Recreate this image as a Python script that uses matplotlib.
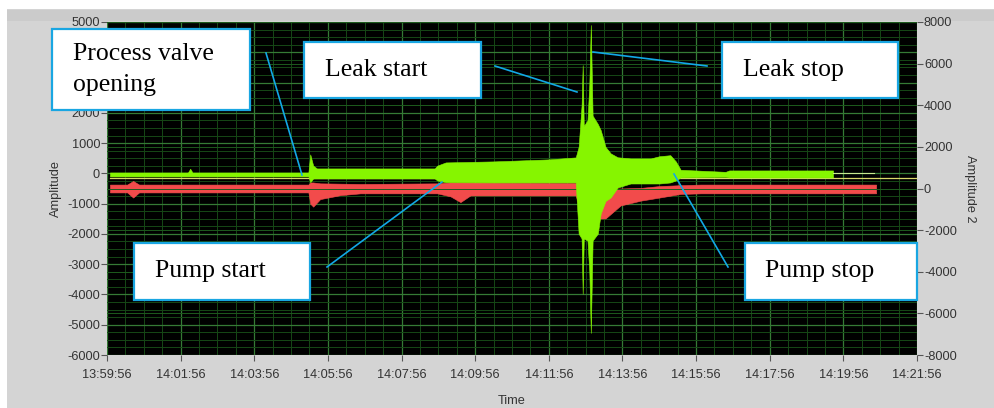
import matplotlib
matplotlib.use("Agg")
import matplotlib.pyplot as plt
from matplotlib.patches import Rectangle
from matplotlib.lines import Line2D
from matplotlib.ticker import MultipleLocator

plt.rcParams["axes.unicode_minus"] = False

# time in minutes after 13:59:56
tick_min = [0, 2, 4, 6, 8, 10, 12, 14, 16, 18, 20, 22]
tick_lab = ["13:59:56", "14:01:56", "14:03:56", "14:05:56", "14:07:56", "14:09:56",
            "14:11:56", "14:13:56", "14:15:56", "14:17:56", "14:19:56", "14:21:56"]

# red trace (Amplitude), envelope
t_red = [0.08, 0.55, 0.71, 0.87, 5.47, 5.52, 5.6, 5.79, 6.34, 6.88, 8.97, 9.33, 9.6, 9.87,
         12.73, 12.92, 13.54, 13.95, 14.5, 15.0, 15.58, 16.13, 20.89]
red_hi = [-370, -370, -250, -370, -370, -300, -300, -330, -340, -350, -330, -300, -300, -300,
          -320, -330, -500, -500, -480, -420, -390, -370, -370]
red_lo = [-630, -630, -800, -630, -630, -1000, -1100, -850, -720, -660, -660, -760, -950, -730,
          -730, -1500, -1490, -1060, -900, -800, -680, -660, -660]

# green trace (Amplitude 2), envelope
t_grn = [0.08, 2.2, 2.26, 2.32, 5.47, 5.52, 5.6, 5.7, 8.9, 8.97, 9.2, 10.5, 12.0, 12.73,
         12.81, 12.89, 12.92, 12.95, 13.05, 13.10, 13.14, 13.19, 13.33, 13.41, 13.54, 13.68,
         13.87, 14.22, 14.77, 15.0, 15.3, 15.45, 15.58, 16.8, 16.9, 19.72]
grn_hi = [771, 771, 950, 771, 771, 1639, 1100, 964, 964, 1100, 1253, 1302, 1398, 1494,
          2000, 4000, 5928, 3000, 3277, 5000, 7855, 3500, 3100, 2800, 2000, 1687,
          1500, 1446, 1446, 1550, 1600, 1300, 900, 800, 868, 868]
grn_lo = [579, 579, 579, 579, 579, 300, 480, 482, 482, 386, 300, 290, 290, 290,
          -2170, -2400, -5059, -2400, -2500, -4000, -6939, -2500, -2170, -1200, -600, -433,
          48, 240, 240, 240, 290, 386, 530, 560, 530, 530]

# thin tail of the green trace and the yellow reference line
t_tail = [19.72, 20.83]
v_tail = [722, 722]
t_yel = [0.08, 22]
v_yel = [-168, -168]

# left tick values hidden behind the "Process valve" box in the original
hidden_left = [3000, 4000]

W, H = 995, 408
fig = plt.figure(figsize=(W / 100, H / 100), dpi=100, facecolor="white")

def px(x, y):
    return x / W, 1 - y / H

# grey LabVIEW panel
fig.add_artist(Rectangle(px(7, 408), (W - 7) / W, (408 - 9) / H, transform=fig.transFigure,
                         facecolor="#d4d4d4", edgecolor="none", zorder=0))
fig.add_artist(Rectangle(px(7, 21), (W - 7) / W, 11 / H, transform=fig.transFigure,
                         facecolor="#cbcbcb", edgecolor="none", zorder=0))

ax = fig.add_axes([107 / W, 1 - 355 / H, (917 - 107) / W, (355 - 22) / H])
ax.set_facecolor("black")
ax.set_xlim(0, 22)
ax.set_ylim(-6000, 5000)
ax.set_xticks(tick_min)
ax.set_xticklabels(tick_lab)
yt = list(range(-6000, 5001, 1000))
ax.set_yticks(yt)
ax.set_yticklabels(["" if v in hidden_left else str(v) for v in yt])
ax.xaxis.set_minor_locator(MultipleLocator(0.5))
ax.yaxis.set_minor_locator(MultipleLocator(250))
ax.grid(which="major", color="#357a35", lw=0.9)
ax.grid(which="minor", color="#164816", lw=0.7)
ax.set_axisbelow(True)

ax2 = ax.twinx()
ax2.set_ylim(-8000, 8000)
ax2.set_yticks(range(-8000, 8001, 2000))
ax2.grid(which="major", axis="y", color="#1d5a1d", lw=0.7)
ax2.set_axisbelow(True)

ax.fill_between(t_red, red_lo, red_hi, color="#f24b4b", lw=0.4, zorder=2)
ax.plot(t_yel, v_yel, color="#d8d86a", lw=0.9, zorder=3)
ax2.fill_between(t_grn, grn_lo, grn_hi, color="#86f500", lw=0.4, zorder=2)
ax2.plot(t_tail, v_tail, color="#c8e890", lw=0.8, zorder=2)

font = "Liberation Sans"
for a in (ax, ax2):
    for s in a.spines.values():
        s.set_visible(False)
    a.tick_params(which="both", colors="#555555", labelcolor="#333333", labelsize=9.2,
                  length=4, width=0.8, pad=1)
    a.tick_params(which="minor", length=0)
    for lab in a.get_xticklabels() + a.get_yticklabels():
        lab.set_fontfamily(font)
ax.tick_params(axis="x", pad=6)

ax.set_xlabel("Time", fontsize=9.2, color="#333333", family=font, labelpad=10)
ax.set_ylabel("Amplitude", fontsize=9.2, color="#333333", family=font, labelpad=4)
ax2.set_ylabel("Amplitude 2", fontsize=9.2, color="#333333", family=font, rotation=270,
               labelpad=14)

# call-out boxes: (box left, top, right, bottom), text lines, text x
blue = "#19a6e2"
boxes = [
    ((52, 29, 250, 110), ["Process valve", "opening"], 73),
    ((304, 42, 481, 98), ["Leak start"], 325),
    ((722, 42, 898, 98), ["Leak stop"], 743),
    ((134, 243, 310, 300), ["Pump start"], 155),
    ((745, 243, 917, 300), ["Pump stop"], 765),
]
for (x0, y0, x1, y1), lines, tx in boxes:
    fig.add_artist(Rectangle(px(x0, y1), (x1 - x0) / W, (y1 - y0) / H, transform=fig.transFigure,
                             facecolor="white", edgecolor=blue, lw=1.6, zorder=10))
    yc = (y0 + y1) / 2
    step = 31
    for i, line in enumerate(lines):
        yy = yc + (i - (len(lines) - 1) / 2) * step
        fig.text(tx / W, 1 - yy / H, line, family="Liberation Serif", fontsize=18.5,
                 va="center", ha="left", zorder=11)

leaders = [
    ((266, 53), (302, 175)),
    ((495, 66), (577, 92)),
    ((593, 52), (707, 66)),
    ((327, 267), (442, 182)),
    ((674, 174), (728, 267)),
]
for (xa, ya), (xb, yb) in leaders:
    fig.add_artist(Line2D([xa / W, xb / W], [1 - ya / H, 1 - yb / H], transform=fig.transFigure,
                          color="#12a8e6", lw=1.2, zorder=9))

fig.savefig("out.png", dpi=100, facecolor="white")
